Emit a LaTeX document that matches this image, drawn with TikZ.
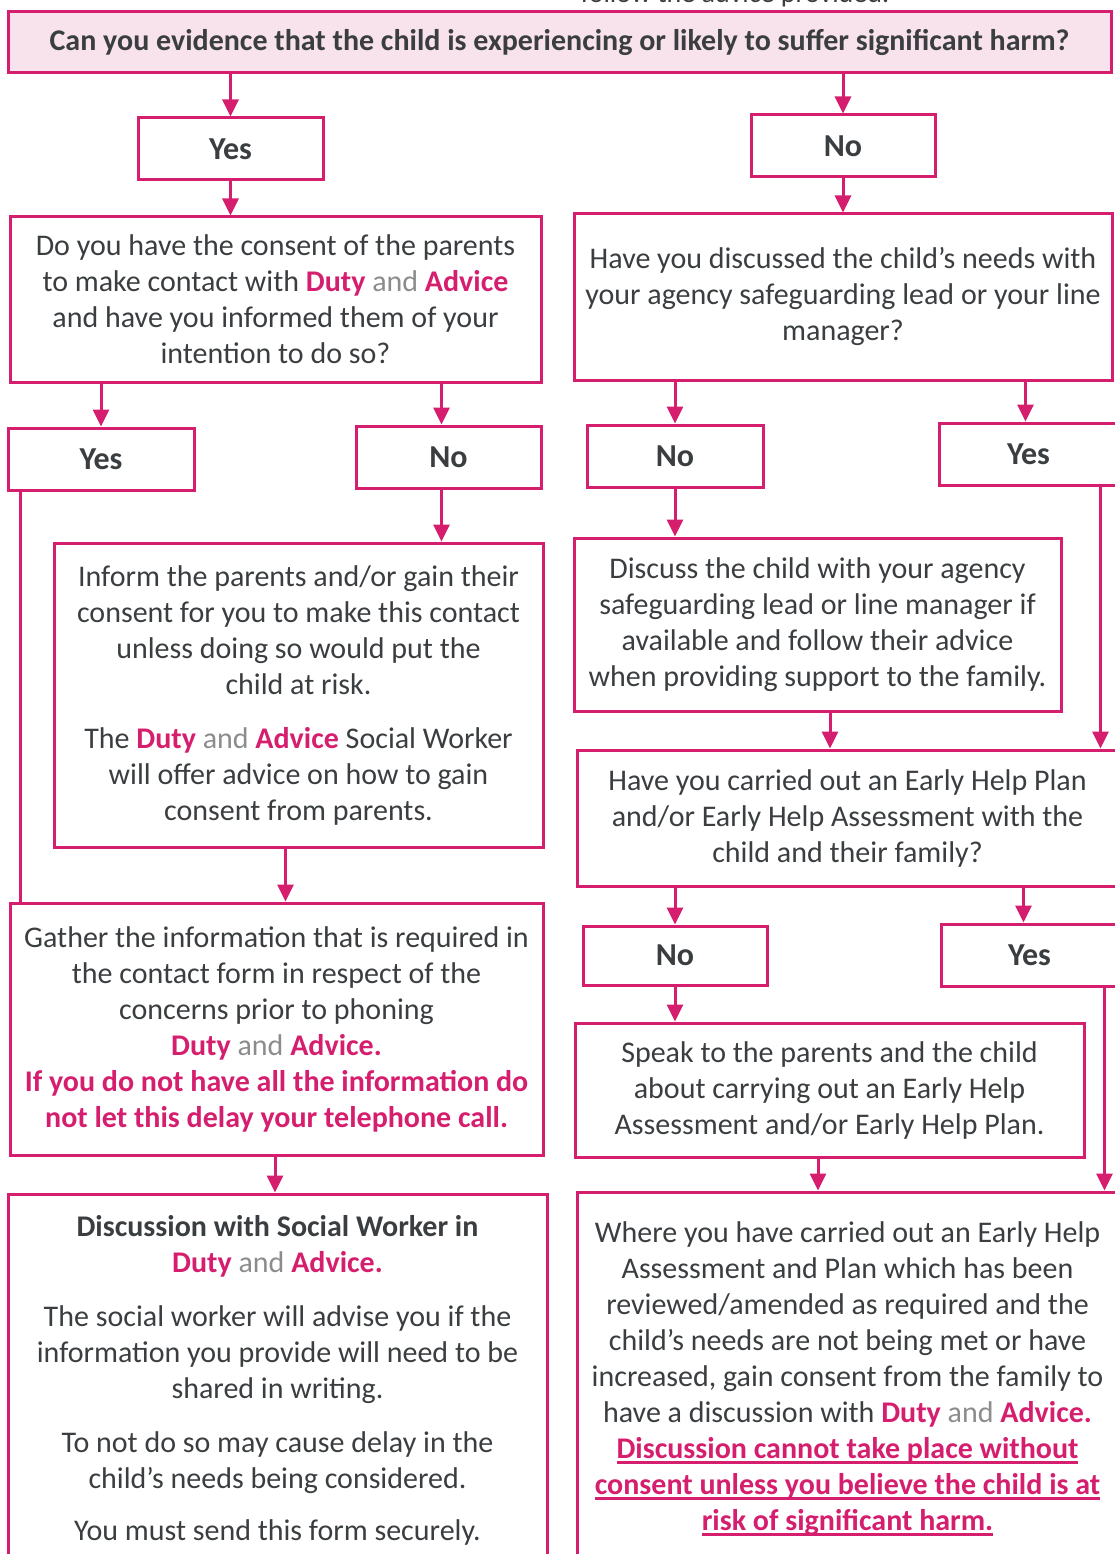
\documentclass[tikz,border=0pt]{standalone}
\usepackage{fontspec}
\setmainfont{Carlito}
\usetikzlibrary{arrows.meta,calc}
\definecolor{pk}{RGB}{213,30,110}
\definecolor{txt}{RGB}{58,62,64}
\definecolor{andgr}{RGB}{140,140,140}
\definecolor{topfill}{RGB}{248,226,235}
\newsavebox\ulbox
\newcommand\hDA[1]{{\bfseries\color{pk}Duty} {\color{andgr}and} {\bfseries\color{pk}Advice#1}}
\newcommand\pkb[1]{{\bfseries\color{pk}#1}}
\newcommand\pku[1]{{\bfseries\color{pk}\sbox\ulbox{#1}\rlap{\rule[-5pt]{\wd\ulbox}{2.2pt}}\usebox\ulbox}}
\begin{document}
\begin{tikzpicture}[x=1pt,y=-1pt,
  box/.style={draw=pk,line width=3pt,rectangle,inner sep=0pt,align=center,text=txt,
    font=\fontsize{30}{36}\selectfont},
  ansbox/.style={box,font=\fontsize{32}{36}\selectfont\bfseries},
  txtnode/.style={inner sep=0pt,align=center,text=txt,font=\fontsize{30}{36}\selectfont},
  arr/.style={draw=pk,line width=3pt,-{Triangle[width=16pt,length=17pt]}},
  ln/.style={draw=pk,line width=3pt}]
\useasboundingbox (0,0) rectangle (1114,1554);
% text cut by the top edge
\node[txtnode,anchor=base,font=\fontsize{28}{36}\selectfont] (cut) at (735,3) {follow the advice provided.};
% top question
\node[box,fill=topfill,minimum width=1103pt,minimum height=61pt,
  font=\fontsize{30}{36}\selectfont\bfseries] (top) at (559.5,42.5)
  {Can you evidence that the child is experiencing or likely to suffer significant harm?};
% first answers
\node[ansbox,minimum width=185pt,minimum height=62pt] (yes1) at (230.5,149) {Yes};
\node[ansbox,minimum width=184pt,minimum height=62pt] (no1) at (843,146) {No};
% second level questions
\node[box,minimum width=531pt,minimum height=165pt] (q1) at (275.5,299.5)
  {Do you have the consent of the parents\\
   to make contact with \hDA{}\\
   and have you informed them of your\\
   intention to do so?};
\node[box,minimum width=538pt,minimum height=166pt] (q2) at (843,297)
  {Have you discussed the child’s needs with\\
   your agency safeguarding lead or your line\\
   manager?};
% answers
\node[ansbox,minimum width=186pt,minimum height=62pt] (yes2) at (101,459) {Yes};
\node[ansbox,minimum width=185pt,minimum height=62pt] (no2) at (448.5,457) {No};
\node[ansbox,minimum width=176pt,minimum height=62pt] (no3) at (675,456) {No};
\node[ansbox,minimum width=179pt,minimum height=62pt] (yes3) at (1028.5,454) {Yes};
% inform
\node[box,minimum width=489pt,minimum height=304pt] (inform) at (298.5,695)
  {Inform the parents and/or gain their\\
   consent for you to make this contact\\
   unless doing so would put the\\
   child at risk.\\[18pt]
   The \hDA{} Social Worker\\
   will offer advice on how to gain\\
   consent from parents.};
% discuss
\node[box,minimum width=487pt,minimum height=173pt] (discuss) at (817.5,624.5)
  {Discuss the child with your agency\\
   safeguarding lead or line manager if\\
   available and follow their advice\\
   when providing support to the family.};
% early help question
\node[box,minimum width=541pt,minimum height=136pt] (eh) at (847.5,818)
  {Have you carried out an Early Help Plan\\
   and/or Early Help Assessment with the\\
   child and their family?};
% gather
\node[box,minimum width=533pt,minimum height=252pt] (gather) at (276.5,1029)
  {Gather the information that is required in\\
   the contact form in respect of the\\
   concerns prior to phoning\\
   \hDA{.}\\
   \pkb{If you do not have all the information do}\\
   \pkb{not let this delay your telephone call.}};
\node[ansbox,minimum width=184pt,minimum height=59pt] (no4) at (675,955.5) {No};
\node[ansbox,minimum width=177pt,minimum height=62pt] (yes4) at (1029.5,955) {Yes};
% speak
\node[box,minimum width=509pt,minimum height=134pt] (speak) at (829.5,1090)
  {Speak to the parents and the child\\
   about carrying out an Early Help\\
   Assessment and/or Early Help Plan.};
% bottom open boxes
\node[box,minimum width=539pt,minimum height=412pt] (disc) at (277.5,1400) {};
\node[txtnode,anchor=north] (disctxt) at ([yshift=-23pt]disc.north)
  {{\bfseries Discussion with Social Worker in}\\
   \hDA{.}\\[18pt]
   The social worker will advise you if the\\
   information you provide will need to be\\
   shared in writing.\\[18pt]
   To not do so may cause delay in the\\
   child’s needs being considered.\\[16pt]
   You must send this form securely.};
\node[box,minimum width=541pt,minimum height=412pt] (where) at (847.5,1398) {};
\node[txtnode,anchor=north] (wheretxt) at ([yshift=-31pt]where.north)
  {Where you have carried out an Early Help\\
   Assessment and Plan which has been\\
   reviewed/amended as required and the\\
   child’s needs are not being met or have\\
   increased, gain consent from the family to\\
   have a discussion with \hDA{.}\\
   \pku{Discussion cannot take place without}\\
   \pku{consent unless you believe the child is at}\\
   \pku{risk of significant harm.}};
% connectors
\draw[arr] (yes1.north |- top.south) -- (yes1.north);
\draw[arr] (no1.north |- top.south) -- (no1.north);
\draw[arr] (yes1.south) -- (yes1.south |- q1.north);
\draw[arr] (no1.south) -- (no1.south |- q2.north);
\draw[arr] (yes2.north |- q1.south) -- (yes2.north);
\draw[arr] ([xshift=-7pt]no2.north |- q1.south) -- ([xshift=-7pt]no2.north);
\draw[arr] (no3.north |- q2.south) -- (no3.north);
\draw[arr] ([xshift=-3pt]yes3.north |- q2.south) -- ([xshift=-3pt]yes3.north);
\draw[arr] ([xshift=-7pt]no2.south) -- ([xshift=-7pt]no2.south |- inform.north);
\draw[ln] ([xshift=14pt]yes2.south west) -- ([xshift=14pt]yes2.south west |- gather.north);
\draw[arr] ([xshift=-13pt]inform.south) -- ([xshift=-13pt]inform.south |- gather.north);
\draw[arr] (no3.south) -- (no3.south |- discuss.north);
\draw[arr] ([xshift=12.5pt]discuss.south) -- ([xshift=12.5pt]discuss.south |- eh.north);
\draw[arr] ([xshift=-19pt]yes3.south east) -- ([xshift=-19pt]yes3.south east |- eh.north);
\draw[arr] (no4.north |- eh.south) -- (no4.north);
\draw[arr] ([xshift=-6pt]yes4.north |- eh.south) -- ([xshift=-6pt]yes4.north);
\draw[arr] (no4.south) -- (no4.south |- speak.north);
\draw[arr] ([xshift=-1.5pt]gather.south) -- ([xshift=-1.5pt]gather.south |- disc.north);
\draw[arr] ([xshift=-11.5pt]speak.south) -- ([xshift=-11.5pt]speak.south |- where.north);
\draw[arr] ([xshift=-15pt]yes4.south east) -- ([xshift=-15pt]yes4.south east |- where.north);
\end{tikzpicture}
\end{document}
